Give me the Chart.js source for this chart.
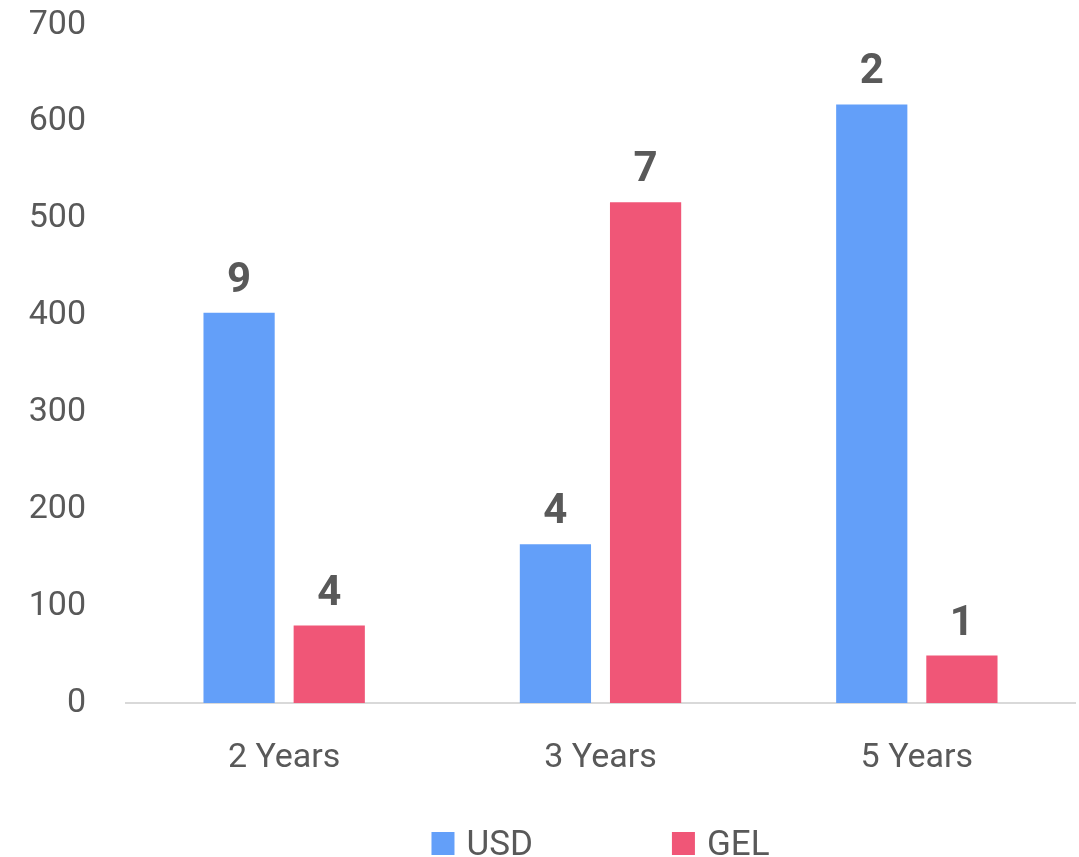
<!DOCTYPE html>
<html>
<head>
<meta charset="utf-8">
<script src="https://cdn.jsdelivr.net/npm/chart.js@4/dist/chart.umd.min.js"></script>
<style>
  html, body { margin: 0; padding: 0; background: #ffffff; overflow: hidden; }
  canvas { display: block; }
</style>
</head>
<body>
<canvas id="chart" width="1079" height="857"></canvas>
<script>
// Term categories
const categories = ['2 Years', '3 Years', '5 Years'];
// Bar heights per currency
const usdValues = [403, 164, 618];
const gelValues = [80, 517, 49];
// Counts printed above each bar
const usdCounts = [9, 4, 2];
const gelCounts = [4, 7, 1];
// Y axis ticks
const yTicks = [0, 100, 200, 300, 400, 500, 600, 700];

const TEXT = '#595959';
const FONT = 'Roboto, "Open Sans", sans-serif';

// Bold count labels above bars
const countLabels = {
  id: 'countLabels',
  afterDatasetsDraw(chart) {
    const ctx = chart.ctx;
    ctx.save();
    ctx.font = 'bold 42px ' + FONT;
    ctx.fillStyle = TEXT;
    ctx.textAlign = 'center';
    ctx.textBaseline = 'alphabetic';
    chart.data.datasets.forEach((ds, i) => {
      const meta = chart.getDatasetMeta(i);
      meta.data.forEach((bar, j) => {
        ctx.fillText(String(ds.counts[j]), bar.x, bar.y - 21);
      });
    });
    ctx.restore();
  }
};

// Legend row along the bottom edge
const bottomLegend = {
  id: 'bottomLegend',
  afterDraw(chart) {
    const ctx = chart.ctx;
    ctx.save();
    ctx.font = '35px ' + FONT;
    const box = 23, gapText = 12, gapItems = 139;
    const items = chart.data.datasets.map(ds => ({
      label: ds.label, color: ds.backgroundColor,
      w: box + gapText + ctx.measureText(ds.label).width
    }));
    const total = items.reduce((s, it) => s + it.w, 0) + gapItems * (items.length - 1);
    const area = chart.chartArea;
    let x = (area.left + area.right) / 2 - total / 2;
    const baseY = 855;
    items.forEach(it => {
      ctx.fillStyle = it.color;
      ctx.fillRect(x, baseY - box, box, box);
      ctx.fillStyle = TEXT;
      ctx.textAlign = 'left';
      ctx.textBaseline = 'alphabetic';
      ctx.fillText(it.label, x + box + gapText, baseY);
      x += it.w + gapItems;
    });
    ctx.restore();
  }
};

new Chart(document.getElementById('chart'), {
  type: 'bar',
  data: {
    labels: categories,
    datasets: [
      { label: 'USD', data: usdValues, counts: usdCounts, backgroundColor: '#639ff9' },
      { label: 'GEL', data: gelValues, counts: gelCounts, backgroundColor: '#f05677' }
    ]
  },
  options: {
    responsive: false,
    animation: false,
    layout: { padding: { top: 25, right: 4, left: 0, bottom: 0 } },
    datasets: { bar: { categoryPercentage: 0.57, barPercentage: 0.79 } },
    plugins: {
      legend: { display: false },
      tooltip: { enabled: false }
    },
    scales: {
      y: {
        min: 0, max: 700,
        afterBuildTicks(scale) { scale.ticks = yTicks.map(v => ({ value: v })); },
        ticks: { color: TEXT, font: { family: FONT, size: 34 }, padding: 40 },
        grid: { display: false, drawTicks: false },
        border: { display: false },
        afterFit(scale) {
          scale.width = 126;
          scale.paddingTop = 20;
          scale.paddingBottom = 0;
        }
      },
      x: {
        ticks: { color: TEXT, font: { family: FONT, size: 34 }, padding: 35 },
        grid: { display: false, drawTicks: false },
        border: { display: true, color: '#d9d9d9', width: 2 },
        afterFit(scale) { scale.height = 154; }
      }
    }
  },
  plugins: [countLabels, bottomLegend]
});
</script>
</body>
</html>
